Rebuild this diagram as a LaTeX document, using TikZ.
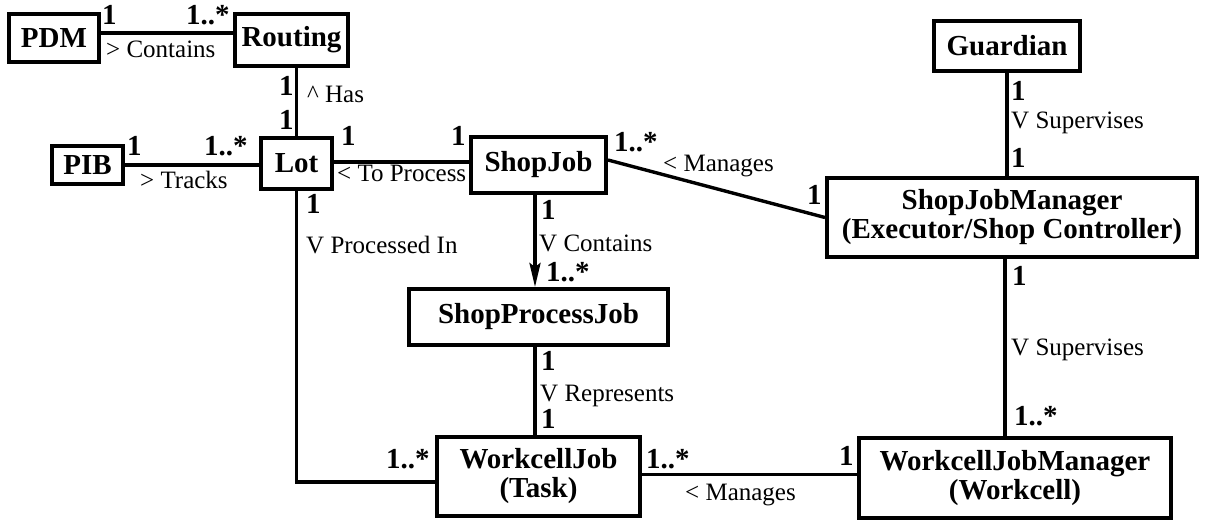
\documentclass[tikz,border=0pt]{standalone}
\usepackage{fontspec}
\setmainfont{Liberation Serif}
\usetikzlibrary{arrows.meta}
\begin{document}
\begin{tikzpicture}[x=1pt,y=-1pt,
  cls/.style={draw, line width=4pt, inner sep=0pt, align=center,
    font=\fontsize{29}{29}\selectfont\bfseries},
  assoc/.style={line width=3.4pt},
  mult/.style={anchor=base west, inner sep=0pt, font=\fontsize{29}{29}\selectfont\bfseries},
  role/.style={anchor=base west, inner sep=0pt, font=\fontsize{25}{25}\selectfont}]
\useasboundingbox (0,0) rectangle (1206,520);

% classes
\node[cls, minimum width=90, minimum height=48] (PDM) at (54,38) {PDM};
\node[cls, minimum width=113, minimum height=52] (Routing) at (291.5,40) {Routing};
\node[cls, minimum width=71, minimum height=38] (PIB) at (87.5,165) {PIB};
\node[cls, minimum width=71, minimum height=51] (Lot) at (296.5,163.5) {Lot};
\node[cls, minimum width=135, minimum height=56] (ShopJob) at (538.5,165) {ShopJob};
\node[cls, minimum width=259, minimum height=56] (SPJ) at (538.5,317) {ShopProcessJob};
\node[cls, minimum width=203, minimum height=79] (WJ) at (538.5,476.5) {WorkcellJob\\(Task)};
\node[cls, minimum width=312, minimum height=80] (WJM) at (1015,478) {WorkcellJobManager\\(Workcell)};
\node[cls, minimum width=370, minimum height=79] (SJM) at (1012,217.5) {ShopJobManager\\(Executor/Shop Controller)};
\node[cls, minimum width=146, minimum height=50] (Guardian) at (1007,46) {Guardian};

% associations
\draw[assoc] ([yshift=5pt]PDM.east) -- ([yshift=5pt]PDM.east -| Routing.west);
\draw[assoc] (Lot.north) -- (Lot.north |- Routing.south);
\draw[assoc] (PIB.east) -- (PIB.east -| Lot.west);
\draw[assoc] ([yshift=3pt]ShopJob.west) -- ([yshift=3pt]ShopJob.west -| Lot.east);
\draw[assoc] ([yshift=5pt]ShopJob.east) -- (SJM.west);
\draw[assoc, -{Stealth[length=24pt, width=11pt, inset=4pt]}] ([xshift=-3.5pt]ShopJob.south) -- ([xshift=-3.5pt]SPJ.north);
\draw[assoc] ([xshift=-3.5pt]SPJ.south) -- ([xshift=-3.5pt]WJ.north);
\draw[assoc] (Lot.south) |- ([yshift=-5.5pt]WJ.west);
\draw[assoc] ([yshift=2pt]WJ.east) -- ([yshift=2pt]WJ.east -| WJM.west);
\draw[assoc] (Guardian.south) -- (Guardian.south |- SJM.north);
\draw[assoc] ([xshift=-2pt]SJM.south -| Guardian.south) -- ([xshift=-2pt]WJM.north -| Guardian.south);

% multiplicities
\node[mult] (m1) at (102,24) {1};
\node[mult] (m2) at (186,24) {1..*};
\node[mult] (m3) at (279,95) {1};
\node[mult] (m4) at (279,129) {1};
\node[mult] (m5) at (127,155) {1};
\node[mult] (m6) at (204,155) {1..*};
\node[mult] (m7) at (341,145) {1};
\node[mult] (m8) at (451,145) {1};
\node[mult] (m9) at (306,213) {1};
\node[mult] (m10) at (541,219) {1};
\node[mult] (m11) at (546,281) {1..*};
\node[mult] (m12) at (614,151) {1..*};
\node[mult] (m13) at (807,204) {1};
\node[mult] (m14) at (1011,100) {1};
\node[mult] (m15) at (1011,167) {1};
\node[mult] (m16) at (541,370) {1};
\node[mult] (m17) at (541,428) {1};
\node[mult] (m18) at (386,468) {1..*};
\node[mult] (m19) at (646,468) {1..*};
\node[mult] (m20) at (839,465) {1};
\node[mult] (m21) at (1012,285) {1};
\node[mult] (m22) at (1014,425) {1..*};

% association names
\node[role] (r1) at (106,57) {> Contains};
\node[role] (r2) at (307,102) {\textasciicircum{} Has};
\node[role] (r3) at (140,188) {> Tracks};
\node[role] (r4) at (337,181) {< To Process};
\node[role] (r5) at (306,253) {V Processed In};
\node[role] (r6) at (539,251) {V Contains};
\node[role] (r7) at (663,171) {< Manages};
\node[role] (r8) at (1011,128) {V Supervises};
\node[role] (r9) at (1011,355) {V Supervises};
\node[role] (r10) at (540,401) {V Represents};
\node[role] (r11) at (685,500) {< Manages};
\end{tikzpicture}
\end{document}
